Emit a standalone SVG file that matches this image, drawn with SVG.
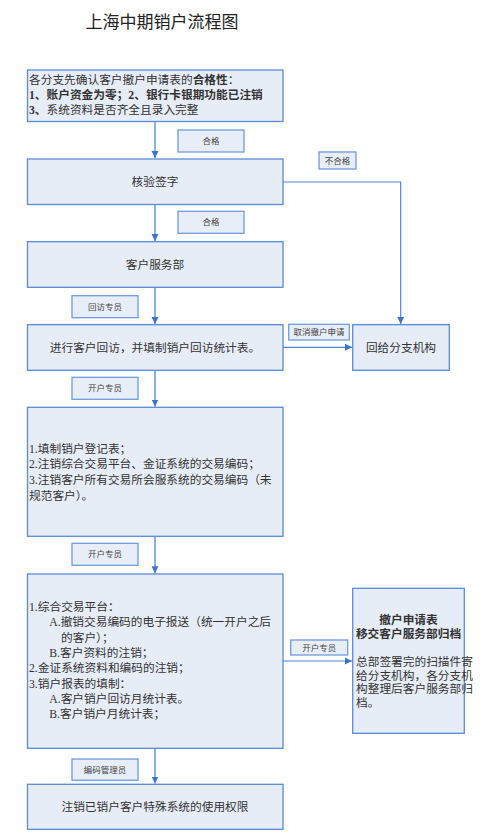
<svg xmlns="http://www.w3.org/2000/svg" width="489" height="838" viewBox="0 0 489 838">
<style>
.box{fill:#e7edf7;stroke:#5b8bd6;stroke-width:1.3}
.lbl{fill:#e8eef7;stroke:#6f9bdc;stroke-width:1.3}
.t{font-family:"Liberation Serif","Noto Sans CJK SC",serif;fill:#333;font-size:11.7px}
.c{text-anchor:middle}
.s{font-family:"Noto Sans CJK SC","Liberation Sans",sans-serif;fill:#444;font-size:8.5px;text-anchor:middle}
.b{font-weight:bold}
.line{fill:none;stroke:#7ea8e2;stroke-width:1.8}
.line2{fill:none;stroke:#4f83d6;stroke-width:1.2}
</style>
<defs>
<marker id="ah" markerWidth="8" markerHeight="8" refX="7" refY="4" orient="auto" markerUnits="userSpaceOnUse">
<path d="M0,0.5 L7,4 L0,7.5 z" fill="#3f72cc"/>
</marker>
</defs>
<rect width="489" height="838" fill="#fff"/>
<text x="162" y="28" font-family="Noto Sans CJK SC, sans-serif" font-size="17" fill="#222" text-anchor="middle">上海中期销户流程图</text>

<g id="connectors">
<path class="line" d="M155,121.5 V158" marker-end="url(#ah)"/>
<path class="line" d="M155,204.5 V241" marker-end="url(#ah)"/>
<path class="line" d="M155,287.3 V324" marker-end="url(#ah)"/>
<path class="line" d="M155,370.3 V406.5" marker-end="url(#ah)"/>
<path class="line" d="M155,536.3 V573.3" marker-end="url(#ah)"/>
<path class="line" d="M155,748.3 V783.5" marker-end="url(#ah)"/>
<path class="line2" d="M283,182 H400.7 V324" marker-end="url(#ah)"/>
<path class="line2" d="M283,347.3 H352" marker-end="url(#ah)"/>
<path class="line2" d="M283,661 H352" marker-end="url(#ah)"/>
<g id="labels">
<rect class="lbl" x="178" y="130" width="66" height="22"/>
<text class="s" x="211" y="144">合格</text>
<rect class="lbl" x="319" y="152" width="37" height="17"/>
<text class="s" x="337.5" y="163.5">不合格</text>
<rect class="lbl" x="178" y="211.3" width="66" height="22"/>
<text class="s" x="211" y="225.3">合格</text>
<rect class="lbl" x="72" y="295.7" width="66" height="22"/>
<text class="s" x="105" y="309.7">回访专员</text>
<rect class="lbl" x="288.7" y="324.3" width="60.6" height="15.7"/>
<text class="s" x="319" y="335" font-size="7.5">取消撤户申请</text>
<rect class="lbl" x="72" y="377.3" width="66" height="22"/>
<text class="s" x="105" y="391.3">开户专员</text>
<rect class="lbl" x="72" y="543.3" width="66" height="22"/>
<text class="s" x="105" y="557.3">开户专员</text>
<rect class="lbl" x="290.7" y="640" width="57" height="15"/>
<text class="s" x="319.2" y="650.7">开户专员</text>
<rect class="lbl" x="72" y="759" width="66" height="21.3"/>
<text class="s" x="105" y="772.7">编码管理员</text>
</g>
</g>

<g id="n1">
<rect class="box" x="27.5" y="70" width="255.5" height="51.5"/>
<text class="t" x="29" y="84">各分支先确认客户撤户申请表的<tspan class="b">合格性</tspan>：</text>
<text class="t b" x="29" y="99">1、账户资金为零；2、银行卡银期功能已注销</text>
<text class="t" x="29" y="114"><tspan class="b">3、</tspan>系统资料是否齐全且录入完整</text>
</g>
<g id="n2">
<rect class="box" x="27.5" y="159" width="255.5" height="45.5"/>
<text class="t c" x="155" y="186">核验签字</text>
</g>
<g id="n3">
<rect class="box" x="27.5" y="241.7" width="255.5" height="45.6"/>
<text class="t c" x="155" y="268.5">客户服务部</text>
</g>
<g id="n4">
<rect class="box" x="27.5" y="324.7" width="255.5" height="45.6"/>
<text class="t c" x="155" y="351.5">进行客户回访，并填制销户回访统计表。</text>
</g>
<g id="n5">
<rect class="box" x="352.7" y="324.7" width="96.6" height="45.6"/>
<text class="t c" x="401" y="351.5">回给分支机构</text>
</g>
<g id="n6">
<rect class="box" x="27.5" y="407.3" width="255.5" height="129"/>
<text class="t" x="29" y="452.8">1.填制销户登记表；</text>
<text class="t" x="29" y="467.5">2.注销综合交易平台、金证系统的交易编码；</text>
<text class="t" x="29" y="484">3.注销客户所有交易所会服系统的交易编码（未</text>
<text class="t" x="29" y="499.8">规范客户）。</text>
</g>
<g id="n7">
<rect class="box" x="27.5" y="574" width="255.5" height="174.3"/>
<text class="t" x="29" y="610.8">1.综合交易平台：</text>
<text class="t" x="49.3" y="626.4">A.撤销交易编码的电子报送（统一开户之后</text>
<text class="t" x="61" y="641.8">的客户）；</text>
<text class="t" x="49.3" y="657.4">B.客户资料的注销；</text>
<text class="t" x="29" y="672.4">2.金证系统资料和编码的注销；</text>
<text class="t" x="29" y="688.1">3.销户报表的填制：</text>
<text class="t" x="49.3" y="703.4">A.客户销户回访月统计表。</text>
<text class="t" x="49.3" y="718.4">B.客户销户月统计表；</text>
</g>
<g id="n8">
<rect class="box" x="352.7" y="588.3" width="111.6" height="145"/>
<text class="t c b" x="408.5" y="624">撤户申请表</text>
<text class="t c b" x="408.5" y="638.4">移交客户服务部归档</text>
<text class="t" x="356" y="666" font-size="10.3px">总部签署完的扫描件寄</text>
<text class="t" x="356" y="679.7" font-size="10.3px">给分支机构，各分支机</text>
<text class="t" x="356" y="693" font-size="10.3px">构整理后客户服务部归</text>
<text class="t" x="356" y="707" font-size="10.3px">档。</text>
</g>
<g id="n9">
<rect class="box" x="27.5" y="784.3" width="255.5" height="45"/>
<text class="t c" x="155" y="811">注销已销户客户特殊系统的使用权限</text>
</g>
</svg>
